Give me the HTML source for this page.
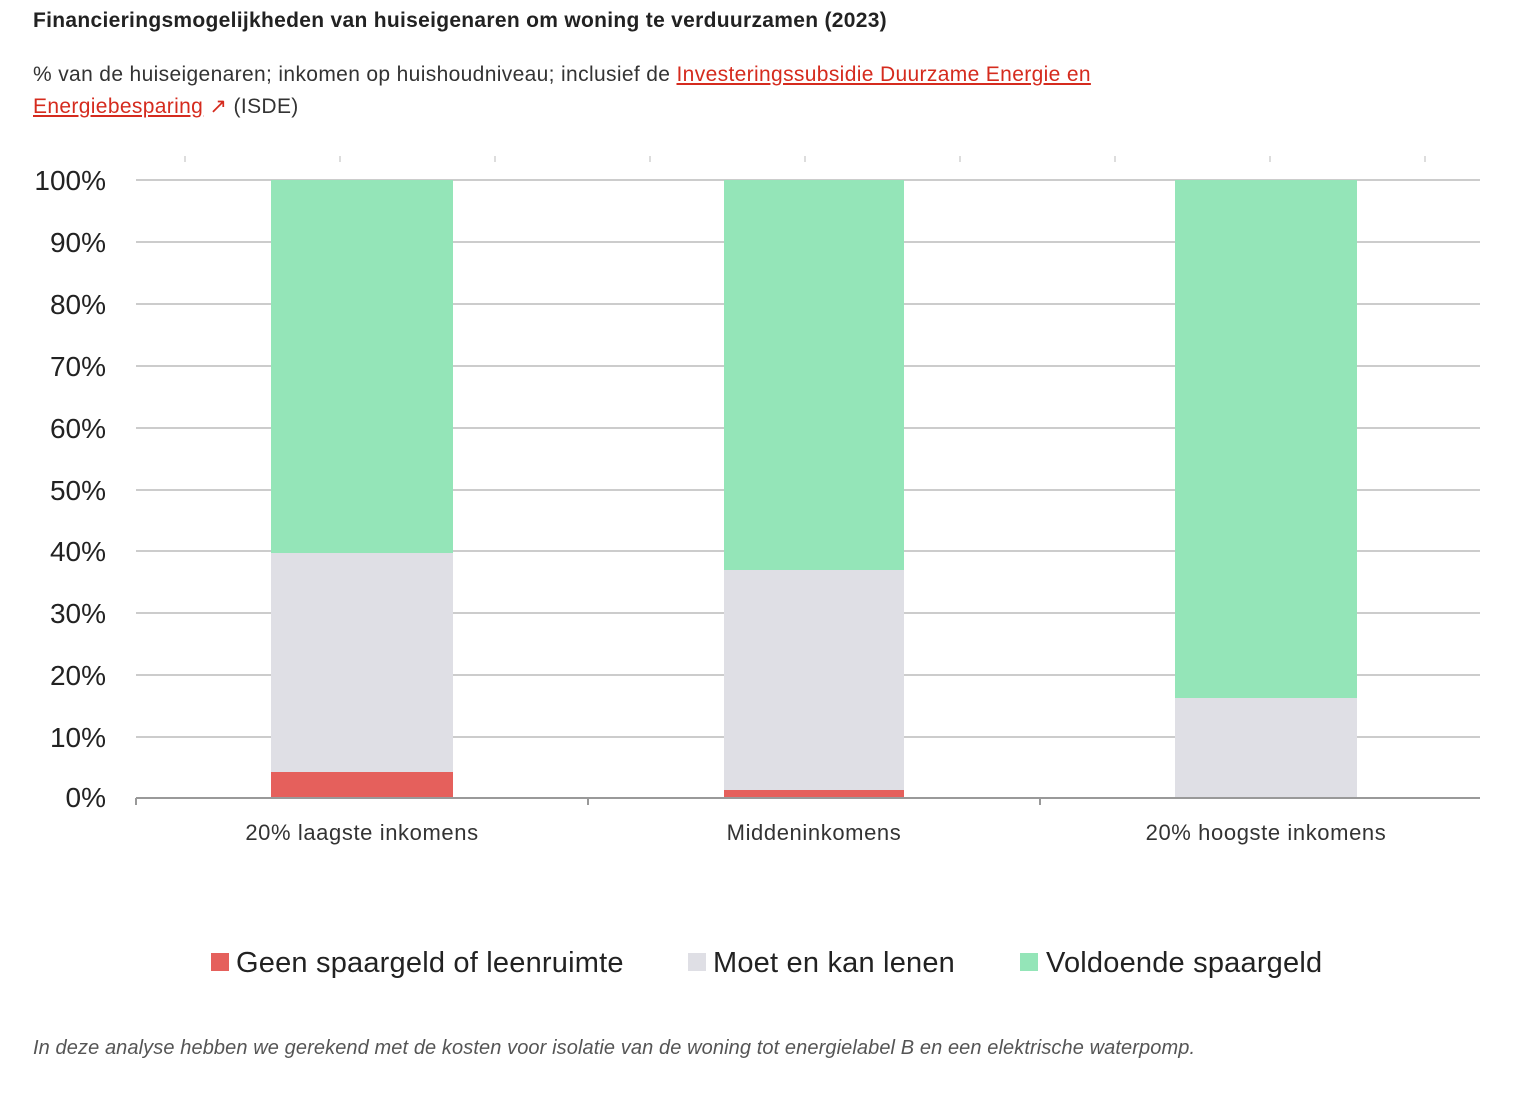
<!DOCTYPE html>
<html><head><meta charset="utf-8"><style>
body{margin:0;width:1516px;height:1096px;background:#fff;font-family:"Liberation Sans",sans-serif;overflow:hidden}
.t{position:absolute;left:33px;top:9px;font-size:21px;font-weight:bold;color:#222;letter-spacing:0.3px}
.s{position:absolute;left:33px;top:59px;font-size:21px;line-height:32px;color:#333;letter-spacing:0.35px}
.s a{color:#d52b1e;text-decoration:underline}
.f{position:absolute;left:33px;top:1037px;font-size:20px;font-style:italic;color:#555;letter-spacing:0.1px}
</style></head><body>
<div class="t">Financieringsmogelijkheden van huiseigenaren om woning te verduurzamen (2023)</div>
<div class="s">% van de huiseigenaren; inkomen op huishoudniveau; inclusief de <a>Investeringssubsidie Duurzame Energie en</a><br><a>Energiebesparing</a> <span style="color:#d52b1e">↗</span> (ISDE)</div>
<svg style="position:absolute;left:0;top:0" width="1516" height="1096" font-family="Liberation Sans, sans-serif">
<g stroke="#ccc" stroke-width="2">
<line x1="136" x2="1480" y1="180" y2="180"/><line x1="136" x2="1480" y1="242" y2="242"/><line x1="136" x2="1480" y1="304" y2="304"/><line x1="136" x2="1480" y1="366" y2="366"/><line x1="136" x2="1480" y1="428" y2="428"/><line x1="136" x2="1480" y1="490" y2="490"/><line x1="136" x2="1480" y1="551" y2="551"/><line x1="136" x2="1480" y1="613" y2="613"/><line x1="136" x2="1480" y1="675" y2="675"/><line x1="136" x2="1480" y1="737" y2="737"/>
</g>
<g stroke="#ddd" stroke-width="2"><line x1="185" x2="185" y1="156" y2="162"/><line x1="340" x2="340" y1="156" y2="162"/><line x1="495" x2="495" y1="156" y2="162"/><line x1="650" x2="650" y1="156" y2="162"/><line x1="805" x2="805" y1="156" y2="162"/><line x1="960" x2="960" y1="156" y2="162"/><line x1="1115" x2="1115" y1="156" y2="162"/><line x1="1270" x2="1270" y1="156" y2="162"/><line x1="1425" x2="1425" y1="156" y2="162"/></g>
<rect x="271" y="180" width="182" height="373" fill="#94e5b8"/><rect x="271" y="553" width="182" height="219" fill="#dfdfe5"/><rect x="271" y="772" width="182" height="26" fill="#e5605c"/>
<rect x="724" y="180" width="180" height="390" fill="#94e5b8"/><rect x="724" y="570" width="180" height="220" fill="#dfdfe5"/><rect x="724" y="790" width="180" height="8" fill="#e5605c"/>
<rect x="1175" y="180" width="182" height="518" fill="#94e5b8"/><rect x="1175" y="698" width="182" height="100" fill="#dfdfe5"/>
<g stroke="#999" stroke-width="2"><line x1="136" x2="1480" y1="798" y2="798"/><line x1="136" x2="136" y1="798" y2="805"/><line x1="588" x2="588" y1="798" y2="805"/><line x1="1040" x2="1040" y1="798" y2="805"/></g>
<g font-size="28" fill="#222" text-anchor="end">
<text x="106" y="190">100%</text><text x="106" y="252">90%</text><text x="106" y="314">80%</text><text x="106" y="376">70%</text><text x="106" y="438">60%</text><text x="106" y="500">50%</text><text x="106" y="561">40%</text><text x="106" y="623">30%</text><text x="106" y="685">20%</text><text x="106" y="747">10%</text><text x="106" y="807">0%</text></g>
<g font-size="22" fill="#333" text-anchor="middle" letter-spacing="0.6"><text x="362" y="840">20% laagste inkomens</text><text x="814" y="840">Middeninkomens</text><text x="1266" y="840">20% hoogste inkomens</text></g>
<rect x="211" y="953" width="18" height="18" fill="#e5605c"/><rect x="688" y="953" width="18" height="18" fill="#dfdfe5"/><rect x="1020" y="953" width="18" height="18" fill="#94e5b8"/>
<g font-size="29" fill="#222" letter-spacing="0.2"><text x="236" y="972">Geen spaargeld of leenruimte</text><text x="713" y="972">Moet en kan lenen</text><text x="1046" y="972">Voldoende spaargeld</text></g>
</svg>
<div class="f">In deze analyse hebben we gerekend met de kosten voor isolatie van de woning tot energielabel B en een elektrische waterpomp.</div>
</body></html>
